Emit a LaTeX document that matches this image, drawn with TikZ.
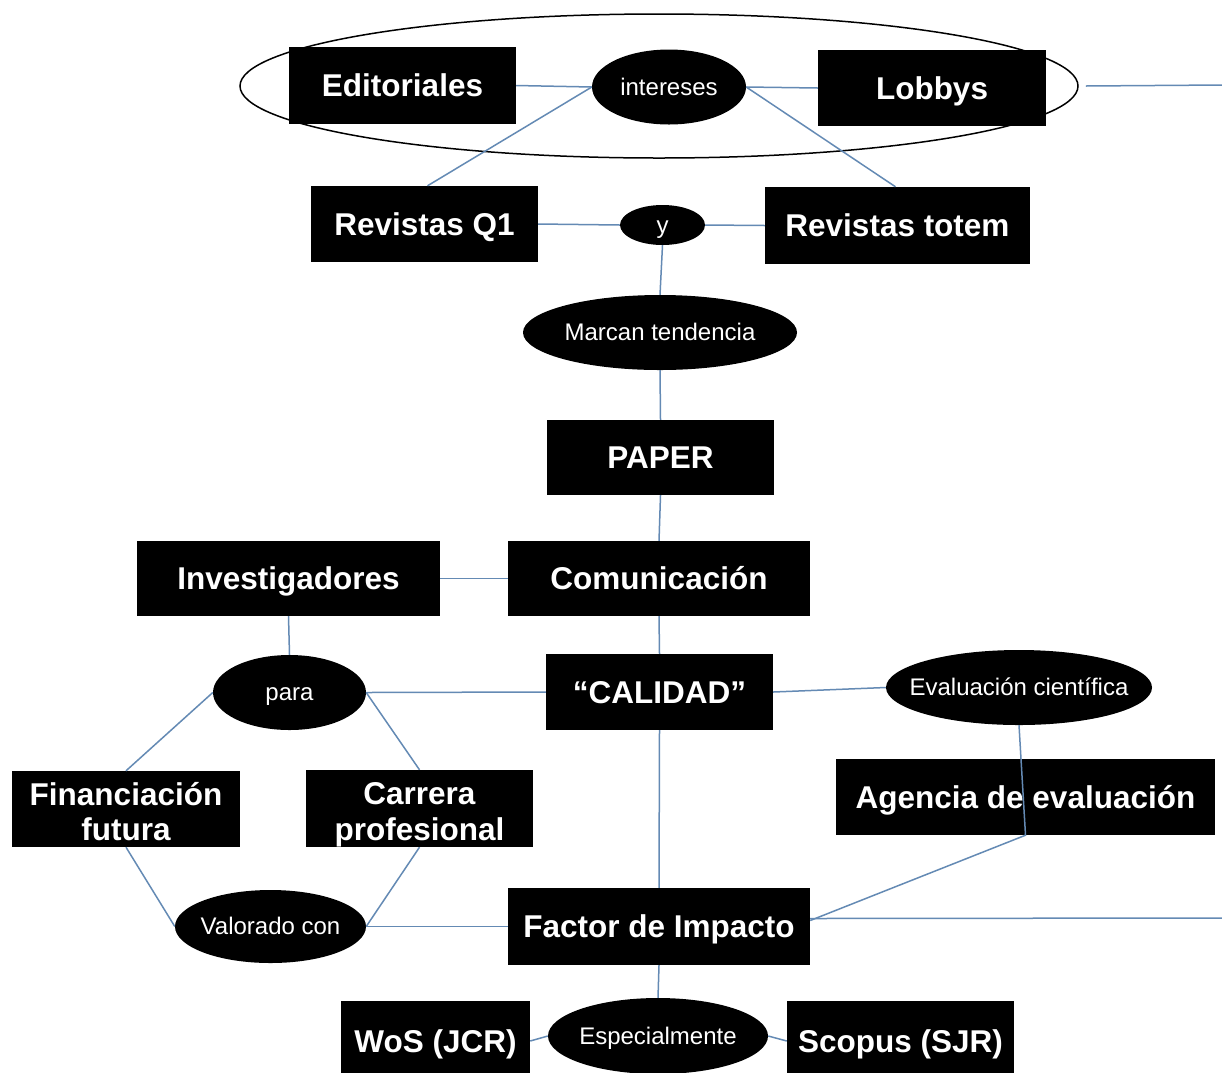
\documentclass[tikz,border=0pt]{standalone}
\usepackage{fontspec}
\setmainfont{Liberation Sans}
\usetikzlibrary{shapes.geometric}
\definecolor{conn}{RGB}{100,138,180}
\begin{document}
\begin{tikzpicture}[x=1pt,y=-1pt,
  box/.style={fill=black,text=white,inner sep=0pt,align=center,
    text height=22.6pt,text depth=0pt,
    font=\fontsize{31.5}{35.5}\selectfont\bfseries},
  twoline/.style={text height=63pt,text depth=0pt},
  oval/.style={ellipse,fill=black,inner sep=0pt},
  ovaltext/.style={text=white,inner sep=0pt,text height=16pt,text depth=0pt,
    font=\fontsize{24}{28}\selectfont},
  conn/.style={draw=conn,line width=1.5pt}]
\useasboundingbox (0,0) rectangle (1222,1072);
\fill[white] (0,0) rectangle (1222,1072);
\clip (0,0) rectangle (1222,1072);
% big ellipse
\node[ellipse,draw=black,line width=1.5pt,minimum width=838pt,minimum height=144pt,inner sep=0pt] (big) at (659,86) {};
% boxes
\node[box,minimum width=227pt,minimum height=77pt] (ed) at (402.5,85.5) {Editoriales};
\node[box,minimum width=228pt,minimum height=76pt] (lob) at (932,88) {Lobbys};
\node[box,minimum width=227pt,minimum height=76pt] (q1) at (424.5,224) {Revistas Q1};
\node[box,minimum width=265pt,minimum height=77pt] (tot) at (897.5,225.5) {Revistas totem};
\node[box,minimum width=227pt,minimum height=75pt] (paper) at (660.5,457.5) {PAPER};
\node[box,minimum width=302pt,minimum height=75pt] (com) at (659,578.5) {Comunicación};
\node[box,minimum width=303pt,minimum height=75pt] (inv) at (288.5,578.5) {Investigadores};
\node[box,minimum width=227pt,minimum height=76pt] (cal) at (659.5,692) {“CALIDAD”};
\node[box,minimum width=379pt,minimum height=76pt] (ag) at (1025.5,797) {Agencia de evaluación};
\node[box,twoline,minimum width=228pt,minimum height=76pt] (fin) at (126,809) {Financiación\\futura};
\node[box,twoline,minimum width=227pt,minimum height=77pt] (car) at (419.5,808.5) {Carrera\\profesional};
\node[box,minimum width=302pt,minimum height=77pt] (fac) at (659,926.5) {Factor de Impacto};
\node[box,minimum width=189pt,minimum height=80pt] (wos) at (435.5,1041) {WoS (JCR)};
\node[box,minimum width=227pt,minimum height=80pt] (sco) at (900.5,1041) {Scopus (SJR)};
% ellipses
\node[oval,minimum width=154pt,minimum height=75pt,label={[ovaltext]center:intereses}] (int) at (669,87) {};
\node[oval,minimum width=85pt,minimum height=40pt,label={[ovaltext]center:y}] (yy) at (662.5,225) {};
\node[oval,minimum width=274pt,minimum height=75pt,label={[ovaltext]center:Marcan tendencia}] (mar) at (660,332.5) {};
\node[oval,minimum width=153pt,minimum height=75pt,label={[ovaltext]center:para}] (para) at (289.5,692.5) {};
\node[oval,minimum width=266pt,minimum height=75pt,label={[ovaltext]center:Evaluación científica}] (eval) at (1019,687.5) {};
\node[oval,minimum width=191pt,minimum height=73pt,label={[ovaltext]center:Valorado con}] (val) at (270.5,926.5) {};
\node[oval,minimum width=220pt,minimum height=76pt,label={[ovaltext]center:Especialmente}] (esp) at (658,1036) {};
% free ends
\coordinate (rA) at (1222,85);
\coordinate (rB) at (1222,918);
% connectors
\draw[conn] (ed.east) -- (int.west);
\draw[conn] (int.east) -- (lob.west);
\draw[conn] ([xshift=7pt]big.east) -- (rA);
\draw[conn] (int.west) -- ([xshift=3pt]q1.north);
\draw[conn] (int.east) -- ([xshift=-2pt]tot.north);
\draw[conn] (q1.east) -- (yy.west);
\draw[conn] (yy.east) -- (tot.west);
\draw[conn] (yy.south) -- (mar.north);
\draw[conn] (mar.south) -- (paper.north);
\draw[conn] (paper.south) -- (com.north);
\draw[conn] (inv.east) -- (com.west);
\draw[conn] (com.south) -- (cal.north);
\draw[conn] (inv.south) -- (para.north);
\draw[conn] (para.east) -- (cal.west);
\draw[conn] (cal.east) -- (eval.west);
\draw[conn] (para.west) -- (fin.north);
\draw[conn] (para.east) -- (car.north);
\draw[conn] (fin.south) -- (val.west);
\draw[conn] (car.south) -- (val.east);
\draw[conn] (val.east) -- (fac.west);
\draw[conn] (cal.south) -- (fac.north);
\draw[conn] ([yshift=8pt]fac.east) -- (rB);
\draw[conn] (fac.south) -- (esp.north);
\draw[conn] (wos.east) -- (esp.west);
\draw[conn] (esp.east) -- (sco.west);
\draw[conn] (eval.south) -- (ag.south) -- ([yshift=6pt]fac.east);
\end{tikzpicture}
\end{document}
